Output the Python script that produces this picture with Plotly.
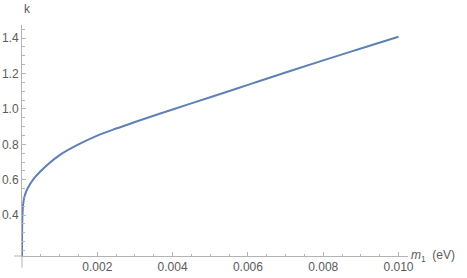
import plotly.graph_objects as go

# m1 (eV) and k
m1 = [0, 1e-6, 4e-6, 1.2e-5, 3e-5, 7e-5, 1.5e-4, 3e-4, 5e-4, 7e-4, 1e-3,
      1.5e-3, 2e-3, 2.5e-3, 3e-3, 4e-3, 5e-3, 6e-3, 7e-3, 8e-3, 9e-3, 1e-2]
k = [0.169, 0.25, 0.33, 0.40, 0.46, 0.508, 0.552, 0.602, 0.649, 0.689, 0.739,
     0.799, 0.849, 0.889, 0.926, 0.997, 1.066, 1.136, 1.206, 1.274, 1.341, 1.408]

x_ticks = [0.002, 0.004, 0.006, 0.008, 0.010]
y_ticks = [0.4, 0.6, 0.8, 1.0, 1.2, 1.4]

# axes cross at (0, 0.169); plot area starts there
x_range = [0.0, 0.010252]
y_range = [0.169, 1.474]

axis_col = "#b3b3b3"
label_col = "#5a5a5a"
font = dict(family="Liberation Sans, Arial, sans-serif", size=12, color=label_col)

fig = go.Figure()
fig.add_trace(go.Scatter(
    x=m1, y=k, mode="lines", cliponaxis=False,
    line=dict(color="#5e81b5", width=2, shape="spline", smoothing=1.0),
    hoverinfo="skip",
))

fig.update_xaxes(
    range=x_range, automargin=False,
    showgrid=False, zeroline=False,
    showline=True, linecolor=axis_col, linewidth=1,
    tickmode="array", tickvals=x_ticks, ticktext=[f"{v:.3f}" for v in x_ticks],
    ticks="inside", ticklen=4, tickcolor=axis_col, tickfont=font,
    minor=dict(tickmode="array",
               tickvals=[i * 0.0005 for i in range(1, 21)],
               ticks="inside", ticklen=2.5, tickcolor=axis_col),
)
fig.update_yaxes(
    range=y_range, automargin=False,
    showgrid=False, zeroline=False,
    showline=True, linecolor=axis_col, linewidth=1,
    tickmode="array", tickvals=y_ticks, ticktext=[f"{v:.1f}" for v in y_ticks],
    ticks="inside", ticklen=4, tickcolor=axis_col, tickfont=font,
    minor=dict(tickmode="array",
               tickvals=[round(0.2 + i * 0.05, 2) for i in range(26)],
               ticks="inside", ticklen=2.5, tickcolor=axis_col),
)

# axis lines run a little past the crossing point (plot range padding)
fig.add_shape(type="line", xref="paper", yref="paper", x0=-0.02, x1=0, y0=0, y1=0,
              line=dict(color=axis_col, width=1))
fig.add_shape(type="line", xref="paper", yref="paper", x0=0, x1=0, y0=-0.0505, y1=0,
              line=dict(color=axis_col, width=1))

fig.add_annotation(text="k", xref="paper", x=0, yref="paper", y=1,
                   yanchor="middle", yshift=16, showarrow=False, font=font)
fig.add_annotation(text="<i>m</i><sub>1</sub>  (eV)", xref="paper", x=1,
                   xanchor="left", xshift=1, yref="paper", y=0,
                   yanchor="middle", showarrow=False, font=font)

fig.update_layout(
    width=467, height=278,
    margin=dict(l=22, r=59, t=25, b=22),
    paper_bgcolor="white", plot_bgcolor="white",
    showlegend=False,
)

fig.write_html("out.html", config={"displayModeBar": False},
               post_script="document.body.style.margin='0';")
